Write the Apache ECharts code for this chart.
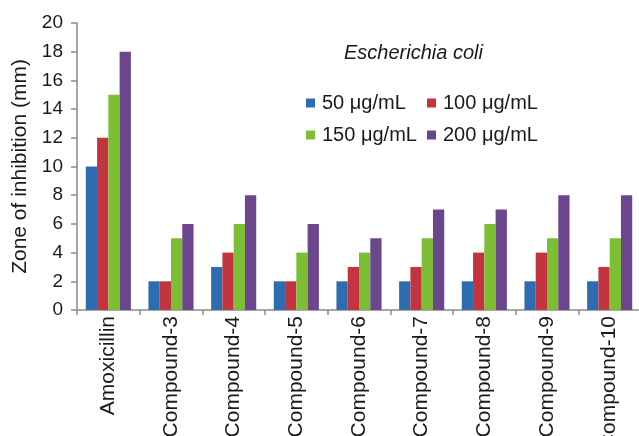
<!DOCTYPE html>
<html>
<head>
<meta charset="utf-8">
<script src="https://cdn.jsdelivr.net/npm/echarts@6/dist/echarts.min.js"></script>
<style>html,body{margin:0;padding:0;background:#fff}#c{width:639px;height:436px}</style>
</head>
<body>
<div id="c"></div>
<script>
const categories = ['Amoxicillin','Compound-3','Compound-4','Compound-5','Compound-6','Compound-7','Compound-8','Compound-9','Compound-10'];
const seriesNames = ['50 μg/mL','100 μg/mL','150 μg/mL','200 μg/mL'];
const s50  = [10, 2, 3, 2, 2, 2, 2, 2, 2];
const s100 = [12, 2, 4, 2, 3, 3, 4, 4, 3];
const s150 = [15, 5, 6, 4, 4, 5, 6, 5, 5];
const s200 = [18, 6, 8, 6, 5, 7, 7, 8, 8];
const yTicks = [0, 2, 4, 6, 8, 10, 12, 14, 16, 18, 20];
const titleText = 'Escherichia coli';
const yName = 'Zone of inhibition (mm)';

const colors = ['#2e6cb0', '#c4343f', '#7cbe34', '#6c468d'];
const font = 'Liberation Sans, Arial, sans-serif';
const fsH = 20;
const fsR = 21;
const axisColor = '#8a8a8a';

const values = [s50, s100, s150, s200];
const legendPos = [[306, 93], [427, 93], [306, 125], [427, 125]];

const chart = echarts.init(document.getElementById('c'));
chart.setOption({
  animation: false,
  color: colors,
  textStyle: { fontFamily: font },
  title: {
    text: titleText, left: 344, top: 43, padding: 0,
    textStyle: { fontStyle: 'italic', fontWeight: 'normal', fontSize: fsH, color: '#1a1a1a', fontFamily: font }
  },
  legend: seriesNames.map((n, i) => ({
    data: [n], left: legendPos[i][0], top: legendPos[i][1], padding: 0,
    icon: 'rect', itemWidth: 9, itemHeight: 9, itemGap: 0,
    textStyle: { fontSize: fsH, color: '#1a1a1a', fontFamily: font, padding: [0, 0, 0, 2] }
  })),
  grid: { left: 77, top: 23, width: 564, height: 287, containLabel: false, outerBoundsMode: 'none' },
  xAxis: {
    type: 'category', data: categories,
    axisLine: { lineStyle: { color: axisColor, width: 1.5 } },
    axisTick: { show: true, length: 5, lineStyle: { color: axisColor, width: 1.5 } },
    axisLabel: { rotate: 90, margin: 6, fontSize: fsR, color: '#1a1a1a', fontFamily: font, interval: 0 }
  },
  yAxis: {
    type: 'value', min: yTicks[0], max: yTicks[yTicks.length - 1], interval: yTicks[1] - yTicks[0],
    name: yName, nameLocation: 'middle', nameGap: 45,
    nameTextStyle: { fontSize: fsR, color: '#1a1a1a', fontFamily: font },
    axisLine: { show: true, lineStyle: { color: axisColor, width: 1.5 } },
    axisTick: { show: true, length: 6, lineStyle: { color: axisColor, width: 1.5 } },
    axisLabel: { margin: 14, fontSize: 19, color: '#1a1a1a', fontFamily: font },
    splitLine: { show: false }
  },
  series: seriesNames.map((n, i) => ({
    name: n, type: 'bar', data: values[i],
    barGap: '0%', barCategoryGap: '28%',
    itemStyle: { color: colors[i] }
  }))
});
</script>
</body>
</html>
